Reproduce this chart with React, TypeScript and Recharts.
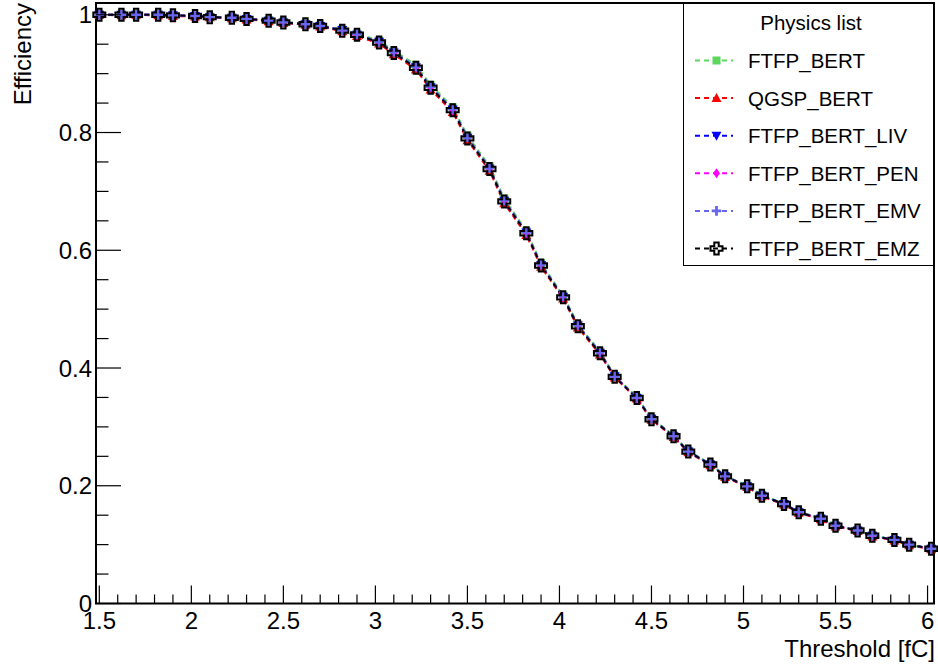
import React from "react";
import { LineChart, Line, XAxis, YAxis, Legend, ReferenceArea, Label } from "recharts";

// ---- data ----

// thresholds [fC] of the scan points
const thresholdFC = [
  1.50, 1.62, 1.70, 1.82, 1.90, 2.02, 2.10, 2.22, 2.30, 2.42, 2.50, 2.62, 2.70, 2.82, 2.90, 3.02,
  3.10, 3.22, 3.30, 3.42, 3.50, 3.62, 3.70, 3.82, 3.90, 4.02, 4.10, 4.22, 4.30, 4.42, 4.50, 4.62,
  4.70, 4.82, 4.90, 5.02, 5.10, 5.22, 5.30, 5.42, 5.50, 5.62, 5.70, 5.82, 5.90, 6.02,
];

const effFTFP_BERT = [
  1.000, 1.000, 1.000, 1.000, 0.999, 0.998, 0.997, 0.995, 0.993, 0.991, 0.988, 0.985, 0.982, 0.975, 0.968, 0.956,
  0.939, 0.915, 0.881, 0.843, 0.795, 0.743, 0.688, 0.633, 0.578, 0.523, 0.474, 0.428, 0.387, 0.351, 0.315, 0.286,
  0.259, 0.237, 0.217, 0.200, 0.184, 0.170, 0.156, 0.145, 0.133, 0.124, 0.116, 0.108, 0.100, 0.093,
];
const effQGSP_BERT = [
  1.000, 0.999, 1.000, 0.999, 0.998, 0.997, 0.996, 0.994, 0.992, 0.989, 0.986, 0.983, 0.980, 0.972, 0.964, 0.951,
  0.933, 0.907, 0.873, 0.835, 0.787, 0.735, 0.680, 0.626, 0.572, 0.518, 0.469, 0.423, 0.384, 0.348, 0.312, 0.283,
  0.257, 0.235, 0.215, 0.198, 0.182, 0.168, 0.154, 0.143, 0.131, 0.123, 0.114, 0.107, 0.099, 0.092,
];
const effFTFP_BERT_LIV = [
  1.000, 1.000, 1.000, 1.000, 0.999, 0.998, 0.996, 0.995, 0.993, 0.990, 0.987, 0.984, 0.981, 0.974, 0.966, 0.954,
  0.936, 0.911, 0.877, 0.839, 0.791, 0.739, 0.684, 0.630, 0.575, 0.521, 0.472, 0.426, 0.386, 0.349, 0.314, 0.284,
  0.258, 0.236, 0.216, 0.199, 0.183, 0.169, 0.155, 0.144, 0.132, 0.124, 0.115, 0.108, 0.100, 0.093,
];
const effFTFP_BERT_PEN = [
  1.000, 1.000, 1.000, 1.000, 0.999, 0.998, 0.996, 0.995, 0.993, 0.990, 0.987, 0.984, 0.981, 0.973, 0.966, 0.953,
  0.935, 0.910, 0.877, 0.838, 0.791, 0.738, 0.684, 0.629, 0.575, 0.520, 0.472, 0.425, 0.386, 0.349, 0.313, 0.284,
  0.258, 0.236, 0.216, 0.199, 0.183, 0.169, 0.155, 0.144, 0.132, 0.124, 0.115, 0.108, 0.100, 0.093,
];
const effFTFP_BERT_EMV = [
  1.000, 1.000, 1.000, 1.000, 0.999, 0.998, 0.997, 0.995, 0.993, 0.990, 0.988, 0.984, 0.981, 0.974, 0.967, 0.954,
  0.937, 0.912, 0.878, 0.840, 0.792, 0.740, 0.685, 0.631, 0.576, 0.522, 0.473, 0.427, 0.386, 0.350, 0.314, 0.285,
  0.259, 0.237, 0.217, 0.199, 0.184, 0.169, 0.156, 0.144, 0.133, 0.124, 0.116, 0.108, 0.100, 0.093,
];
const effFTFP_BERT_EMZ = [
  1.000, 1.000, 1.000, 1.000, 0.999, 0.998, 0.996, 0.995, 0.993, 0.990, 0.987, 0.984, 0.981, 0.973, 0.966, 0.953,
  0.935, 0.910, 0.876, 0.838, 0.790, 0.738, 0.683, 0.629, 0.574, 0.520, 0.471, 0.425, 0.385, 0.349, 0.313, 0.284,
  0.258, 0.236, 0.216, 0.199, 0.183, 0.169, 0.155, 0.144, 0.132, 0.124, 0.115, 0.108, 0.100, 0.093,
];

const xLabels = [1.5, 2, 2.5, 3, 3.5, 4, 4.5, 5, 5.5, 6];
const yLabels = [0, 0.2, 0.4, 0.6, 0.8, 1];

const series = [
  { name: "FTFP_BERT", values: effFTFP_BERT, color: "#5cd65c", marker: "square" },
  { name: "QGSP_BERT", values: effQGSP_BERT, color: "#ff0000", marker: "triUp" },
  { name: "FTFP_BERT_LIV", values: effFTFP_BERT_LIV, color: "#0000ff", marker: "triDown" },
  { name: "FTFP_BERT_PEN", values: effFTFP_BERT_PEN, color: "#ff00ff", marker: "diamond" },
  { name: "FTFP_BERT_EMV", values: effFTFP_BERT_EMV, color: "#6666ee", marker: "cross" },
  { name: "FTFP_BERT_EMZ", values: effFTFP_BERT_EMZ, color: "#000000", marker: "openCross" },
];

const X_MIN = 1.482;
const X_MAX = 6.035;
const Y_MAX = 1.02;
const FONT = "'Liberation Sans', Arial, Helvetica, sans-serif";
const FS = 24;

// minor ticks every 0.1 fC / 0.05 efficiency
const xTicks: number[] = [];
for (let i = 0; i <= 45; i++) xTicks.push(Math.round(15 + i) / 10);
const yTicks: number[] = [];
for (let i = 0; i <= 20; i++) yTicks.push(i / 20);

const isMajor = (v: number, list: number[]) => list.some((l) => Math.abs(l - v) < 1e-6);

function crossPath(cx: number, cy: number, s: number, a: number) {
  return `M${cx - a},${cy - s}H${cx + a}V${cy - a}H${cx + s}V${cy + a}H${cx + a}V${cy + s}H${cx - a}V${cy + a}H${cx - s}V${cy - a}H${cx - a}Z`;
}

function Marker({ shape, cx, cy, color }: { shape: string; cx: number; cy: number; color: string }) {
  if (shape === "square") return <rect x={cx - 4} y={cy - 4} width={8} height={8} fill={color} />;
  if (shape === "triUp")
    return <polygon points={`${cx},${cy - 5} ${cx - 5},${cy + 4} ${cx + 5},${cy + 4}`} fill={color} />;
  if (shape === "triDown")
    return <polygon points={`${cx - 5},${cy - 4} ${cx + 5},${cy - 4} ${cx},${cy + 5}`} fill={color} />;
  if (shape === "diamond")
    return <polygon points={`${cx},${cy - 5} ${cx + 3.5},${cy} ${cx},${cy + 5} ${cx - 3.5},${cy}`} fill={color} />;
  if (shape === "cross") return <path d={crossPath(cx, cy, 4.8, 1.4)} fill={color} />;
  return <path d={crossPath(cx, cy, 6, 2.2)} fill="none" stroke={color} strokeWidth={2} />;
}

const XTick = (props: any) => {
  const { x, y, payload } = props;
  const major = isMajor(payload.value, xLabels);
  return (
    <g>
      <line x1={x} x2={x} y1={y} y2={y - (major ? 18 : 9)} stroke="#000" strokeWidth={1.2} />
      {major && (
        <text x={x} y={y + 25} textAnchor="middle" fontSize={FS} fontFamily={FONT} fill="#000">
          {String(payload.value)}
        </text>
      )}
    </g>
  );
};

const YTick = (props: any) => {
  const { x, y, payload } = props;
  const major = isMajor(payload.value, yLabels);
  return (
    <g>
      <line x1={x} x2={x + (major ? 25 : 12.5)} y1={y} y2={y} stroke="#000" strokeWidth={1.2} />
      {major && (
        <text x={x - 4} y={y + 8.5} textAnchor="end" fontSize={FS} fontFamily={FONT} fill="#000">
          {String(payload.value)}
        </text>
      )}
    </g>
  );
};

const renderLegend = (props: any) => {
  // keep the drawing order of the series (Recharts sorts the payload by name)
  const payload = [...(props.payload || [])].sort(
    (a: any, b: any) =>
      series.findIndex((s) => s.name === a.value) - series.findIndex((s) => s.name === b.value)
  );
  return (
    <svg width={251} height={263} style={{ display: "block" }}>
      <rect x={0.5} y={0.5} width={250} height={262} fill="#fff" stroke="#000" strokeWidth={1} />
      <text x={128} y={26.5} textAnchor="middle" fontSize={20.5} fontFamily={FONT} fill="#000">
        Physics list
      </text>
      {payload.map((entry: any, i: number) => {
        const s = series.find((d) => d.name === entry.value) || series[i];
        const cy = 57.5 + i * 37.6;
        return (
          <g key={s.name}>
            <line x1={12} x2={50} y1={cy} y2={cy} stroke={s.color} strokeWidth={2} strokeDasharray="5 4" />
            <Marker shape={s.marker} cx={33.5} cy={cy} color={s.color} />
            <text x={65} y={cy + 7.5} fontSize={20.5} fontFamily={FONT} fill="#000">
              {s.name}
            </text>
          </g>
        );
      })}
    </svg>
  );
};

export default function App() {
  return (
    <div style={{ position: "absolute", left: 0, top: 0, width: 938, height: 670, background: "#fff" }}>
      <LineChart width={938} height={670} margin={{ top: 3, right: 4, bottom: 0, left: 0 }}>
        <XAxis
          type="number"
          dataKey="x"
          domain={[X_MIN, X_MAX]}
          ticks={xTicks}
          interval={0}
          height={66.5}
          tickSize={0}
          tickMargin={0}
          tickLine={false}
          axisLine={false}
          tick={<XTick />}
          allowDuplicatedCategory={false}
        >
          <Label
            content={() => (
              <text x={935} y={657} textAnchor="end" fontSize={FS} fontFamily={FONT} fill="#000">
                Threshold [fC]
              </text>
            )}
          />
        </XAxis>
        <YAxis
          type="number"
          domain={[0, Y_MAX]}
          ticks={yTicks}
          interval={0}
          width={96}
          tickSize={0}
          tickMargin={0}
          tickLine={false}
          axisLine={false}
          tick={<YTick />}
        >
          <Label
            content={() => (
              <text transform="translate(31,3) rotate(-90)" textAnchor="end" fontSize={FS} fontFamily={FONT} fill="#000">
                Efficiency
              </text>
            )}
          />
        </YAxis>
        <ReferenceArea x1={X_MIN} x2={X_MAX} y1={0} y2={Y_MAX} fill="none" stroke="#000" strokeWidth={2} />
        {series.map((s) => (
          <Line
            key={s.name}
            name={s.name}
            data={thresholdFC.map((x, i) => ({ x, y: s.values[i] }))}
            dataKey="y"
            type="linear"
            stroke={s.color}
            strokeWidth={2}
            strokeDasharray="5 4"
            isAnimationActive={false}
            activeDot={false}
            dot={(p: any) => <Marker key={`${s.name}-${p.index}`} shape={s.marker} cx={p.cx} cy={p.cy} color={s.color} />}
          />
        ))}
        <Legend
          layout="horizontal"
          verticalAlign="middle"
          align="center"
          wrapperStyle={{ left: 683, top: 2.5, width: 251, height: 263 }}
          content={renderLegend}
        />
      </LineChart>
    </div>
  );
}
